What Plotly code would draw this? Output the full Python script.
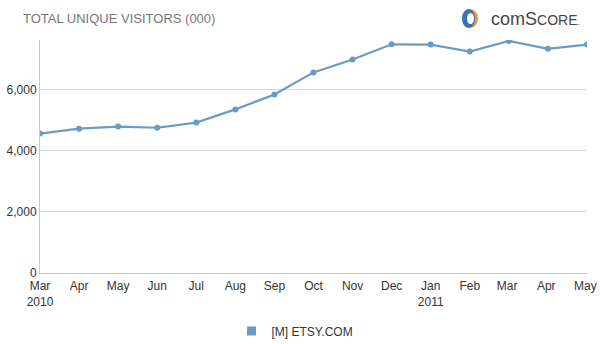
import plotly.graph_objects as go

months = ["Mar<br>2010", "Apr", "May", "Jun", "Jul", "Aug", "Sep", "Oct", "Nov",
          "Dec", "Jan<br>2011", "Feb", "Mar ", "Apr ", "May "]
visitors = [4560, 4720, 4790, 4750, 4920, 5350, 5840, 6560, 6980,
            7480, 7470, 7240, 7590, 7330, 7470]
series_name = "[M] ETSY.COM"
y_ticks = [0, 2000, 4000, 6000]

LINE = "#6a9bc3"
W, H = 611, 344
ML, MR, MT, MB = 40, 24, 40, 71
PW, PH = W - ML - MR, H - MT - MB


def px(x):
    return (x - ML) / PW


def py(y):
    return (H - MB - y) / PH


fig = go.Figure()
fig.add_trace(go.Scatter(
    x=months, y=visitors, mode="lines+markers",
    line=dict(color=LINE, width=2.2),
    marker=dict(color=LINE, size=6),
    showlegend=False, hoverinfo="x+y"))
fig.add_trace(go.Scatter(
    x=[None], y=[None], mode="markers", name=series_name,
    marker=dict(color=LINE, size=9, symbol="square")))

fig.update_layout(
    width=W, height=H,
    margin=dict(l=ML, r=MR, t=MT, b=MB, autoexpand=False),
    paper_bgcolor="white", plot_bgcolor="white",
    font=dict(family="Liberation Sans, Arial, sans-serif", size=12, color="#333333"),
    showlegend=True,
    legend=dict(orientation="h", x=px(295), xanchor="center", y=py(331), yanchor="middle",
                font=dict(size=12, color="#333333"), bgcolor="rgba(0,0,0,0)"),
    xaxis=dict(type="category", range=[0, len(months) - 1], showgrid=False,
               showline=True, linecolor="#c8c8c8", linewidth=1, automargin=False,
               ticks="", ticklabelstandoff=2,
               tickfont=dict(size=12, color="#333333"), fixedrange=True),
    yaxis=dict(range=[0, 7620], tickvals=y_ticks, tickformat=",d",
               showgrid=True, gridcolor="#d9d9d9", gridwidth=1,
               showline=True, linecolor="#c8c8c8", linewidth=1, automargin=False,
               zeroline=False, ticks="", ticklabelstandoff=0,
               tickfont=dict(size=12, color="#333333")),
)

# Title
fig.add_annotation(text="TOTAL UNIQUE VISITORS (000)", xref="paper", yref="paper",
                   x=px(21), y=py(18), xanchor="left", yanchor="middle",
                   showarrow=False, font=dict(size=13, color="#777777"))

# comScore logo approximation
fig.add_shape(type="circle", xref="paper", yref="paper",
              x0=px(463), x1=px(478), y0=py(28), y1=py(9),
              fillcolor="#e8973a", line=dict(width=0))
fig.add_shape(type="circle", xref="paper", yref="paper",
              x0=px(462), x1=px(475), y0=py(28), y1=py(9),
              fillcolor="#3b74b4", line=dict(width=0))
fig.add_shape(type="circle", xref="paper", yref="paper",
              x0=px(467), x1=px(474), y0=py(24), y1=py(13),
              fillcolor="white", line=dict(width=0))
fig.add_annotation(text="comS<span style='font-size:14px'>CORE</span><span style='font-size:8px'>.</span>",
                   xref="paper", yref="paper", x=px(489), y=py(19), xanchor="left", yanchor="middle",
                   showarrow=False,
                   font=dict(size=18, color="#444444", family="Liberation Sans, Arial, sans-serif"))

fig.write_html("out.html")
